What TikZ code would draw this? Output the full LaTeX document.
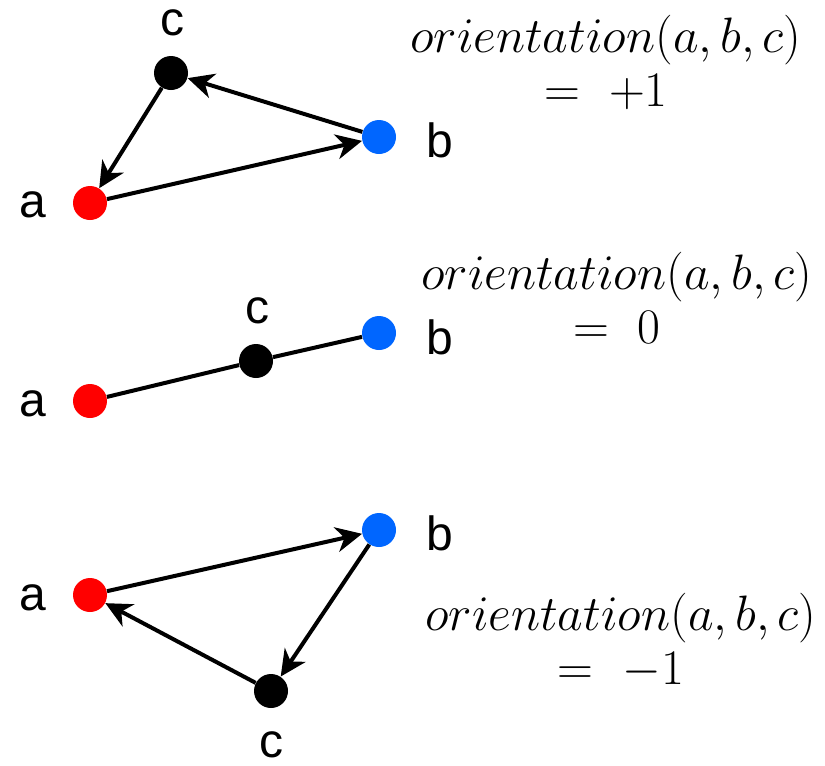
\documentclass[tikz,border=0pt]{standalone}
\usepackage{fontspec}
\setsansfont{Liberation Sans}
\usetikzlibrary{arrows.meta}
\definecolor{ptred}{RGB}{255,0,0}
\definecolor{ptblue}{RGB}{0,102,255}

\begin{document}
\begin{tikzpicture}[
  x=0.5pt, y=-0.5pt,
  >={Stealth[inset=4pt, length=13pt, width=12.5pt]},
  pt/.style={circle, inner sep=0pt, minimum size=17pt},
  lbl/.style={font=\sffamily\fontsize{24}{28}\selectfont, inner sep=0pt},
  formula/.style={font=\fontsize{25}{27}\selectfont, align=center, inner sep=0pt},
  edge/.style={->, line width=2pt},
  seg/.style={line width=2pt}
]
\useasboundingbox (0,0) rectangle (825,766);

% positive orientation
\node[pt, fill=ptred]  (a1) at (90,203)  {};
\node[pt, fill=ptblue] (b1) at (379,137) {};
\node[pt, fill=black]  (c1) at (171,73)  {};
\node[lbl] at (33,205)  (la1) {a};
\node[lbl] at (440,140) (lb1) {b};
\node[lbl] at (172,23)  (lc1) {c};
\draw[edge] (a1) -- (b1);
\draw[edge] (b1) -- (c1);
\draw[edge] (c1) -- (a1);
\node[formula] at (606,62) (f1) {$orientation(a,b,c)$\\$=\ +1$};

% collinear
\node[pt, fill=ptred]  (a2) at (90,401)  {};
\node[pt, fill=ptblue] (b2) at (379,333) {};
\node[pt, fill=black]  (c2) at (256,361) {};
\node[lbl] at (33,404)  (la2) {a};
\node[lbl] at (440,337) (lb2) {b};
\node[lbl] at (257,311) (lc2) {c};
\draw[seg] (a2) -- (c2);
\draw[seg] (c2) -- (b2);
\node[formula] at (617,298) (f2) {$orientation(a,b,c)$\\$=\ 0$};

% negative orientation
\node[pt, fill=ptred]  (a3) at (90,595)  {};
\node[pt, fill=ptblue] (b3) at (379,530) {};
\node[pt, fill=black]  (c3) at (271,691) {};
\node[lbl] at (33,598)  (la3) {a};
\node[lbl] at (440,533) (lb3) {b};
\node[lbl] at (271,745) (lc3) {c};
\draw[edge] (a3) -- (b3);
\draw[edge] (b3) -- (c3);
\draw[edge] (c3) -- (a3);
\node[formula] at (621,641) (f3) {$orientation(a,b,c)$\\$=\ -1$};

\end{tikzpicture}
\end{document}
